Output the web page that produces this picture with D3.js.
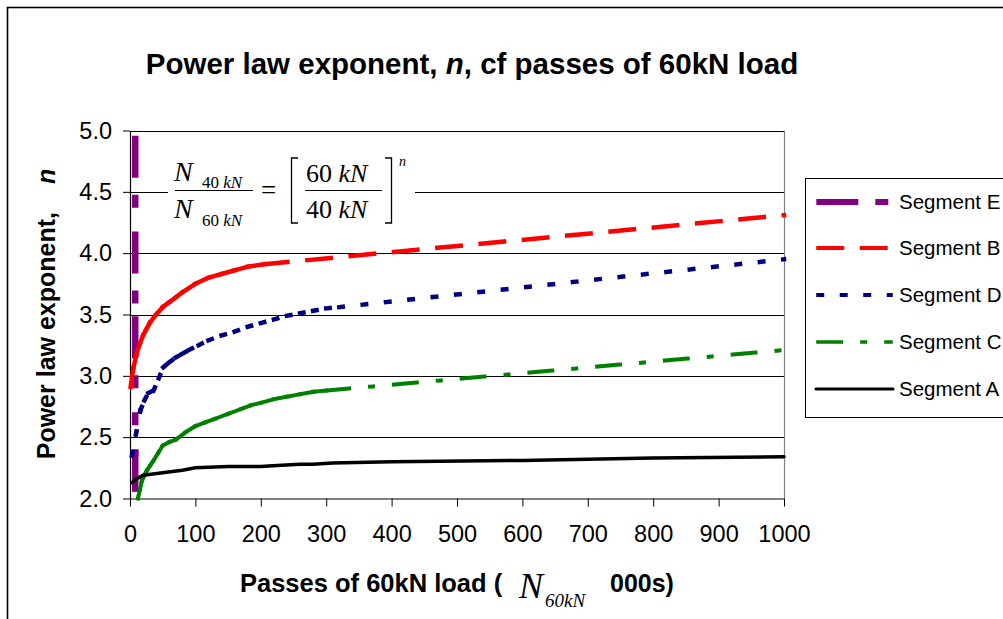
<!DOCTYPE html>
<html>
<head>
<meta charset="utf-8">
<script src="https://cdn.jsdelivr.net/npm/d3@7"></script>
<style>
  html, body { margin: 0; padding: 0; background: #fff; }
  svg { display: block; }
  text { font-family: "Liberation Sans", Arial, sans-serif; fill: #000; }
  .serif { font-family: "Liberation Serif", "Times New Roman", serif; }
</style>
</head>
<body>
<svg id="chart" width="1003" height="619"></svg>
<script>
// Passes of the 60kN load (thousands) and fitted power-law exponent n, per pavement segment
const segE_passes = [8, 8, 8, 8, 8];
const segE_n      = [4.93, 4.15, 3.46, 2.37, 2.03];

const segB_passes = [1, 5, 10, 15, 20, 25, 30, 40, 50, 60, 70, 80, 100, 120, 140, 160, 180, 205, 1000];
const segB_n      = [2.91, 3.06, 3.18, 3.26, 3.33, 3.38, 3.43, 3.50, 3.56, 3.60, 3.64, 3.68, 3.75, 3.80, 3.83, 3.86, 3.89, 3.91, 4.31];

const segD_passes = [3, 9, 16, 22, 28, 36, 44, 51, 60, 70, 80, 90, 105, 120, 140, 160, 180, 200, 220, 240, 260, 280, 300, 320, 1000];
const segD_n      = [2.35, 2.52, 2.72, 2.80, 2.86, 2.88, 2.98, 3.07, 3.11, 3.15, 3.18, 3.21, 3.25, 3.29, 3.33, 3.36, 3.40, 3.43, 3.46, 3.49, 3.51, 3.53, 3.55, 3.56, 3.95];

const segC_passes = [12, 15, 18, 22, 26, 31, 36, 43, 50, 60, 70, 85, 100, 115, 130, 150, 170, 185, 200, 220, 240, 260, 280, 300, 1000];
const segC_n      = [2.00, 2.07, 2.14, 2.19, 2.23, 2.27, 2.31, 2.37, 2.43, 2.46, 2.48, 2.54, 2.59, 2.62, 2.65, 2.69, 2.73, 2.76, 2.78, 2.81, 2.83, 2.85, 2.87, 2.88, 3.21];

const segA_passes = [3, 10, 20, 50, 80, 100, 150, 200, 225, 260, 280, 310, 400, 600, 800, 1000];
const segA_n      = [2.13, 2.16, 2.19, 2.21, 2.23, 2.25, 2.26, 2.26, 2.27, 2.28, 2.28, 2.29, 2.30, 2.31, 2.33, 2.34];

const xTickValues = [0, 100, 200, 300, 400, 500, 600, 700, 800, 900, 1000];
const yTickValues = [2.0, 2.5, 3.0, 3.5, 4.0, 4.5, 5.0];

// Series in drawing / legend order
const series = [
  { name: "Segment E", x: segE_passes, y: segE_n },
  { name: "Segment B", x: segB_passes, y: segB_n },
  { name: "Segment D", x: segD_passes, y: segD_n },
  { name: "Segment C", x: segC_passes, y: segC_n },
  { name: "Segment A", x: segA_passes, y: segA_n }
];

// Line styles: colour, width and visible dash/gap lengths (null = solid)
const styles = {
  "Segment E": { color: "#800080", width: 6.5, dash: [42, 17, 13, 24, 13, 24] },
  "Segment B": { color: "#ff0000", width: 4.5, dash: [28, 15.5] },
  "Segment D": { color: "#000080", width: 4.5, dash: [8, 15.5] },
  "Segment C": { color: "#008000", width: 4,   dash: [27, 17, 7, 17] },
  "Segment A": { color: "#000000", width: 3.5, dash: null }
};

const svg = d3.select("#chart");

// Chart frame
svg.append("rect")
  .attr("x", 7.5).attr("y", 7.5).attr("width", 1100).attr("height", 700)
  .attr("fill", "#fff").attr("stroke", "#000").attr("stroke-width", 1.6);

const plot = { left: 130, right: 784, top: 130.5, bottom: 498.5 };
const x = d3.scaleLinear().domain([0, 1000]).range([plot.left, plot.right]);
const y = d3.scaleLinear().domain([2, 5]).range([plot.bottom, plot.top]);

// Title
const title = svg.append("text")
  .attr("x", 472).attr("y", 74)
  .attr("text-anchor", "middle")
  .attr("font-size", 29.5).attr("font-weight", "bold");
title.append("tspan").text("Power law exponent, ");
title.append("tspan").attr("font-style", "italic").text("n");
title.append("tspan").text(", cf passes of 60kN load");

// Horizontal gridlines
svg.append("g").selectAll("line")
  .data(yTickValues.filter(v => v > 2))
  .join("line")
  .attr("x1", plot.left).attr("x2", plot.right)
  .attr("y1", d => Math.round(y(d)) + 0.5).attr("y2", d => Math.round(y(d)) + 0.5)
  .attr("stroke", "#000").attr("stroke-width", 1);

// Plot area right edge
svg.append("line")
  .attr("x1", plot.right + 0.5).attr("x2", plot.right + 0.5)
  .attr("y1", plot.top).attr("y2", plot.bottom)
  .attr("stroke", "#808080").attr("stroke-width", 1.2);

// Axes
const xAxis = svg.append("g")
  .attr("transform", `translate(0,${plot.bottom})`)
  .call(d3.axisBottom(x).tickValues(xTickValues).tickFormat(d3.format("d"))
    .tickSize(8).tickPadding(19).tickSizeOuter(0));
const yAxis = svg.append("g")
  .attr("transform", `translate(${plot.left},0)`)
  .call(d3.axisLeft(y).tickValues(yTickValues).tickFormat(d3.format(".1f"))
    .tickSize(7).tickPadding(11).tickSizeOuter(0));
[xAxis, yAxis].forEach(a => {
  a.selectAll("path.domain").attr("stroke", "#000").attr("stroke-width", 1.2);
  a.selectAll(".tick line").attr("stroke", "#000").attr("stroke-width", 1);
  a.selectAll(".tick text")
    .attr("font-family", '"Liberation Sans", Arial, sans-serif')
    .attr("font-size", 23.5).attr("fill", "#000");
});

// Equation box
svg.append("rect")
  .attr("x", 168).attr("y", 142).attr("width", 247).attr("height", 88)
  .attr("fill", "#fff");

const eq = svg.append("g");
function eqText(px, py, size, parts) {
  const t = eq.append("text").attr("class", "serif")
    .attr("x", px).attr("y", py).attr("font-size", size);
  parts.forEach(([s, it]) => t.append("tspan").attr("font-style", it ? "italic" : "normal").text(s));
  return t;
}
eqText(174, 181, 28, [["N", true]]);
eqText(202, 188, 17, [["40 ", false], ["kN", true]]);
eqText(174, 218, 28, [["N", true]]);
eqText(202, 226, 17, [["60 ", false], ["kN", true]]);
eqText(261, 199, 27, [["=", false]]);
eqText(306, 182, 26, [["60 ", false], ["kN", true]]);
eqText(306, 218, 26, [["40 ", false], ["kN", true]]);
eqText(399, 166, 14, [["n", true]]);
eq.append("line").attr("x1", 175).attr("x2", 253).attr("y1", 190.5).attr("y2", 190.5)
  .attr("stroke", "#000").attr("stroke-width", 1.2);
eq.append("line").attr("x1", 305).attr("x2", 382).attr("y1", 190.5).attr("y2", 190.5)
  .attr("stroke", "#000").attr("stroke-width", 1.2);
eq.append("path").attr("d", "M298,158 H291.5 V223 H298")
  .attr("fill", "none").attr("stroke", "#000").attr("stroke-width", 1.3);
eq.append("path").attr("d", "M385,158 H391.5 V223 H385")
  .attr("fill", "none").attr("stroke", "#000").attr("stroke-width", 1.3);

// Dash pattern for square-capped strokes so that visible dash/gap lengths match
function dashArray(pattern, w) {
  if (!pattern) return null;
  return pattern.map((v, i) => i % 2 === 0 ? Math.max(v - w, 0.01) : v + w).join(",");
}

// Series: each segment between data points starts its own dash pattern
const lines = svg.append("g");
series.forEach(s => {
  const st = styles[s.name];
  const pts = s.x.map((v, i) => [x(v), y(s.y[i])]);
  if (!st.dash) {
    lines.append("path")
      .attr("d", d3.line()(pts))
      .attr("fill", "none").attr("stroke", st.color).attr("stroke-width", st.width)
      .attr("stroke-linejoin", "round").attr("stroke-linecap", "round");
  } else {
    const segs = d3.pairs(pts);
    lines.append("g").selectAll("line").data(segs).join("line")
      .attr("x1", d => d[0][0]).attr("y1", d => d[0][1])
      .attr("x2", d => d[1][0]).attr("y2", d => d[1][1])
      .attr("stroke", st.color).attr("stroke-width", st.width)
      .attr("stroke-linecap", "square")
      .attr("stroke-dasharray", dashArray(st.dash, st.width));
  }
});

// Legend
const legend = svg.append("g");
legend.append("rect")
  .attr("x", 805.5).attr("y", 178.5).attr("width", 300).attr("height", 239)
  .attr("fill", "#fff").attr("stroke", "#000").attr("stroke-width", 1);
const legendY = [202, 248, 295, 342, 389];
series.forEach((s, i) => {
  const st = styles[s.name];
  legend.append("line")
    .attr("x1", 816 + (st.dash ? st.width / 2 : 0)).attr("x2", 893 - (st.dash ? st.width / 2 : 0))
    .attr("y1", legendY[i]).attr("y2", legendY[i])
    .attr("stroke", st.color).attr("stroke-width", st.width * 0.9)
    .attr("stroke-linecap", st.dash ? "square" : "round")
    .attr("stroke-dasharray", dashArray(st.dash, st.width * 0.9));
  legend.append("text")
    .attr("x", 899).attr("y", legendY[i] + 7)
    .attr("font-size", 20.5).text(s.name);
});

// Y axis title
const yTitle = svg.append("text")
  .attr("transform", "translate(55,314) rotate(-90)")
  .attr("text-anchor", "middle")
  .attr("font-size", 25).attr("font-weight", "bold");
yTitle.append("tspan").text("Power law exponent,");
yTitle.append("tspan").attr("dx", 28).attr("font-style", "italic").text("n");

// X axis title
svg.append("text").attr("x", 240).attr("y", 592)
  .attr("font-size", 25.5).attr("font-weight", "bold").text("Passes of 60kN load (");
svg.append("text").attr("class", "serif").attr("x", 519).attr("y", 598)
  .attr("font-size", 36).attr("font-style", "italic").text("N");
svg.append("text").attr("class", "serif").attr("x", 545).attr("y", 607)
  .attr("font-size", 19).attr("font-style", "italic").text("60kN");
svg.append("text").attr("x", 610).attr("y", 592)
  .attr("font-size", 25).attr("font-weight", "bold").text("000s)");
</script>
</body>
</html>
